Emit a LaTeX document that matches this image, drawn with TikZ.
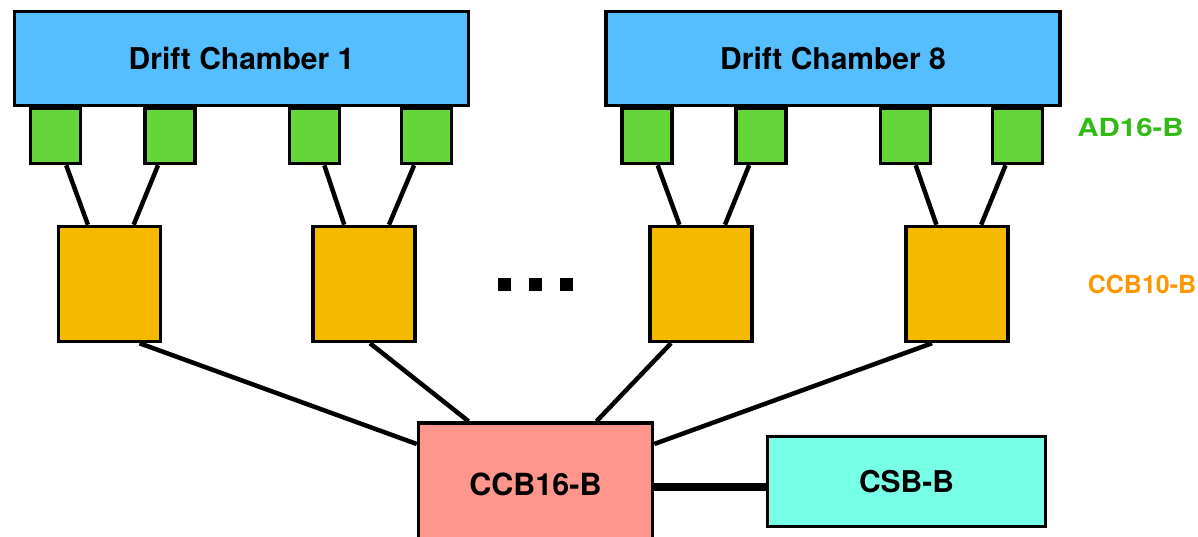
\documentclass[tikz,border=0pt]{standalone}
\usepackage{fontspec}
\setmainfont{TeX Gyre Heros}
\usetikzlibrary{calc}
\definecolor{dcblue}{RGB}{85,190,255}
\definecolor{adgreen}{RGB}{100,214,58}
\definecolor{ccbyellow}{RGB}{245,186,0}
\definecolor{ccbred}{RGB}{255,150,140}
\definecolor{csbcyan}{RGB}{120,255,232}
\definecolor{lblgreen}{RGB}{50,186,20}
\definecolor{lblorange}{RGB}{255,150,0}
\tikzset{
  box/.style={draw=black, line width=3.5pt, inner sep=0pt},
  chamber/.style={box, fill=dcblue, minimum width=454pt, minimum height=94pt,
     font=\fontsize{30}{33}\selectfont\bfseries},
  adbox/.style={box, fill=adgreen, minimum width=50pt, minimum height=55pt},
  ccbbox/.style={box, fill=ccbyellow, minimum width=102pt, minimum height=115pt},
  mainbox/.style={box, fill=ccbred, minimum width=234pt, minimum height=122pt,
     font=\fontsize{30.5}{33}\selectfont\bfseries},
  csbbox/.style={box, fill=csbcyan, minimum width=278pt, minimum height=90pt,
     font=\fontsize{30}{33}\selectfont\bfseries},
  link/.style={line width=4.5pt},
  thicklink/.style={line width=8pt},
  dotsq/.style={fill=black, inner sep=0pt, minimum width=13pt, minimum height=13pt},
  lbl/.style={font=\fontsize{25}{27}\selectfont\bfseries, inner sep=0pt}
}
\begin{document}
\begin{tikzpicture}[x=1pt,y=1pt]
\useasboundingbox (0,0) rectangle (1198,537);
% green readout boxes
\node[adbox] (g1) at (55.5,401) {};
\node[adbox] (g2) at (170,401) {};
\node[adbox] (g3) at (314.5,401) {};
\node[adbox] (g4) at (426.5,401) {};
\node[adbox] (g5) at (647,401) {};
\node[adbox] (g6) at (761,401) {};
\node[adbox] (g7) at (905.5,401) {};
\node[adbox] (g8) at (1017.5,401) {};
% drift chambers
\node[chamber] (dc1) at (241.5,478.5) {Drift Chamber 1};
\node[chamber] (dc8) at (833,478.5) {Drift Chamber 8};
% CCB10 boxes
\node[ccbbox] (y1) at (109.5,253) {};
\node[ccbbox] (y2) at (364,253) {};
\node[ccbbox] (y3) at (701,253) {};
\node[ccbbox] (y4) at (957,253) {};
% CCB16 and CSB
\node[mainbox] (ccb) at (535.5,53) {CCB16-B};
\node[csbbox] (csb) at (906.5,55.5) {CSB-B};
% dots
\node[dotsq] (d1) at (504.5,252.5) {};
\node[dotsq] (d2) at (535.5,252.5) {};
\node[dotsq] (d3) at (566.5,252.5) {};
% labels
\node[lbl, text=lblgreen] (lad) at (1130.5,409) {\scalebox{1.18}[1]{AD16-B}};
\node[lbl, text=lblorange] (lccb) at (1142,253) {CCB10-B};
% links green -> yellow
\draw[link] (g1) -- (y1);
\draw[link] (g2) -- (y1);
\draw[link] (g3) -- (y2);
\draw[link] (g4) -- (y2);
\draw[link] (g5) -- (y3);
\draw[link] (g6) -- (y3);
\draw[link] (g7) -- (y4);
\draw[link] (g8) -- (y4);
% links yellow -> CCB16
\draw[link] ([xshift=30pt]y1.south) -- ([yshift=40pt]ccb.west);
\draw[link] ([xshift=6pt]y2.south) -- ([xshift=-67pt]ccb.north);
\draw[link] ([xshift=-30pt]y3.south) -- ([xshift=61pt]ccb.north);
\draw[link] ([xshift=-25pt]y4.south) -- ([yshift=40pt]ccb.east);
% CCB16 -> CSB
\draw[thicklink] ([yshift=-3pt]ccb.east) -- ([yshift=-3pt]ccb.east -| csb.west);
\end{tikzpicture}
\end{document}
